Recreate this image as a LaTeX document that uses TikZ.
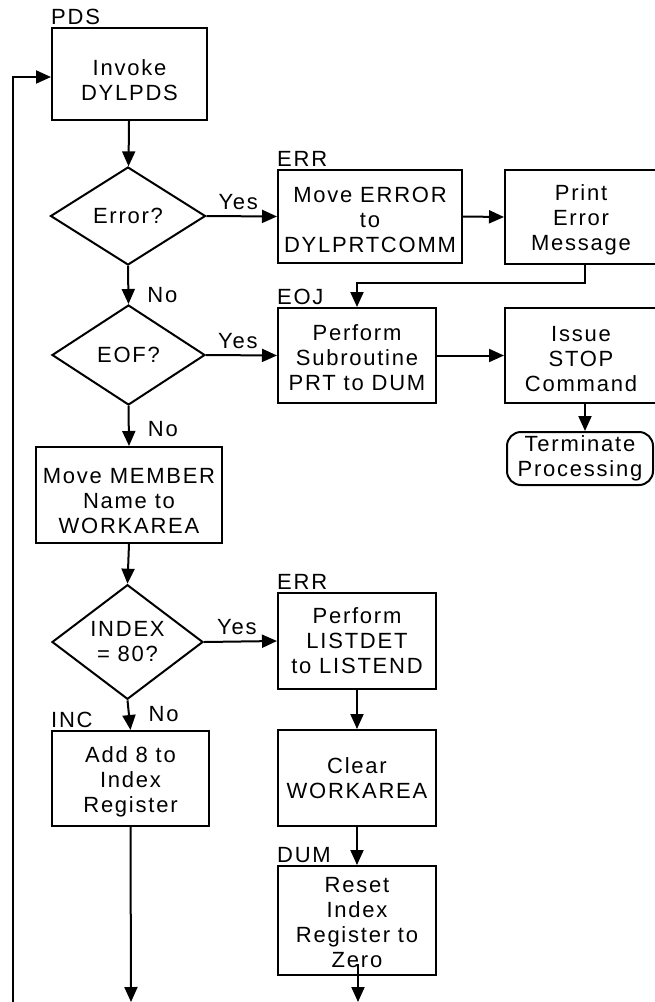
\documentclass[tikz,border=0pt]{standalone}
\usepackage{fontspec}
\setmainfont{Liberation Sans}[LetterSpace=8]
\usetikzlibrary{arrows.meta,shapes.geometric,calc}
\newcommand\dn[1]{\rule{0pt}{#1}}
\begin{document}
\begin{tikzpicture}[x=1pt,y=-1pt,
  every node/.style={font=\fontsize{22}{25}\selectfont, inner sep=0pt},
  procbox/.style n args={2}{draw, line width=2pt, align=center, minimum width=#1, minimum height=#2},
  decision/.style n args={2}{draw, line width=2pt, diamond, align=center, minimum width=#1, minimum height=#2},
  termbox/.style n args={2}{draw, line width=2pt, rounded corners=14pt, align=center, minimum width=#1, minimum height=#2},
  lbl/.style={anchor=base west},
  arr/.style={line width=2pt, -{Triangle[length=15pt,width=13pt]}},
  yeslbl/.style={pos=0.45, above=6pt},
  nolbl/.style={anchor=base west, xshift=18pt}]
\useasboundingbox (0,0) rectangle (654,1002);

% nodes
\node[procbox={155pt}{92pt}] (pds) at (129.5,74) {\dn{28pt}Invoke\\DYLPDS};
\node[decision={155pt}{98pt}] (errd) at (128,216) {Error?};
\node[procbox={184pt}{93pt}] (err1) at (370,216.5) {\dn{22pt}Move ERROR\\to\\DYLPRTCOMM};
\node[procbox={152pt}{94pt}] (prt) at (581,217) {\dn{22pt}Print\\Error\\Message};
\node[decision={153pt}{100pt}] (eofd) at (128.5,355) {EOF?};
\node[procbox={158pt}{95pt}] (eoj) at (357,355.5) {\dn{20pt}Perform\\Subroutine\\PRT to DUM};
\node[procbox={152pt}{95pt}] (issue) at (581,355.5) {\dn{22pt}Issue\\STOP\\Command};
\node[termbox={146pt}{53pt}] (term) at (580,458.5) {Terminate\\Processing};
\node[procbox={186pt}{96pt}] (move) at (129,495) {\dn{28pt}Move MEMBER\\Name to\\WORKAREA};
\node[decision={151pt}{100pt}] (idxd) at (127.5,642) {INDEX\\= 80?};
\node[procbox={158pt}{96pt}] (err2) at (357,641) {Perform\\LISTDET\\to LISTEND};
\node[procbox={157pt}{95pt}] (inc) at (130.5,778.5) {\dn{22pt}Add 8 to\\Index\\Register};
\node[procbox={158pt}{96pt}] (clear) at (357,778) {Clear\\WORKAREA};
\node[procbox={158pt}{109pt}] (dum) at (357,920.5) {\dn{20pt}Reset\\Index\\Register to\\Zero};

% labels above boxes
\node[lbl] (pdsl) at ($(pds.north west)+(0,-3)$) {PDS};
\node[lbl] (err1l) at ($(err1.north west)+(0,-3)$) {ERR};
\node[lbl] (eojl) at ($(eoj.north west)+(0,-3)$) {EOJ};
\node[lbl] (err2l) at ($(err2.north west)+(0,-3)$) {ERR};
\node[lbl] (incl) at ($(inc.north west)+(0,-3)$) {INC};
\node[lbl] (duml) at ($(dum.north west)+(0,-3)$) {DUM};

% helper coordinates
\coordinate (loopbot) at (13,1004);
\coordinate (pdsin) at ($(pds.west)+(0,3)$);
\coordinate (prtout) at ($(prt.south)+(4,0)$);
\coordinate (issout) at ($(issue.south)+(4,0)$);
\coordinate (dumin) at ($(dum.south)+(1,-12)$);
\coordinate (dumend) at (358,1002);
\coordinate (incend) at (131,1002);

% connectors
\draw[arr] (loopbot) |- (pdsin);
\draw[arr] (pds) -- (errd);
\draw[arr] (errd.east) -- node[yeslbl] (y1) {Yes} (err1.west);
\draw[arr] (err1.east) -- (prt.west);
\draw[arr] (prtout) -- ++(0,18) -| (eoj.north);
\draw[arr] (errd.south) -- node[nolbl, pos=0.95] (n1) {No} (eofd.north);
\draw[arr] (eofd.east) -- node[yeslbl] (y2) {Yes} (eoj.west);
\draw[arr] (eoj.east) -- (issue.west);
\draw[arr] (issout) -- (issout |- term.north);
\draw[arr] (eofd.south) -- node[nolbl, pos=0.76] (n2) {No} (move.north);
\draw[arr] (move.south) -- (idxd.north);
\draw[arr] (idxd.east) -- node[yeslbl] (y3) {Yes} (err2.west);
\draw[arr] (idxd.south) -- node[nolbl, pos=0.72] (n3) {No} (inc.north);
\draw[arr] (err2.south) -- (clear.north);
\draw[arr] (clear.south) -- (dum.north);
\draw[arr] (dumin) -- (dumend);
\draw[arr] (inc.south) -- (incend);
\end{tikzpicture}
\end{document}
